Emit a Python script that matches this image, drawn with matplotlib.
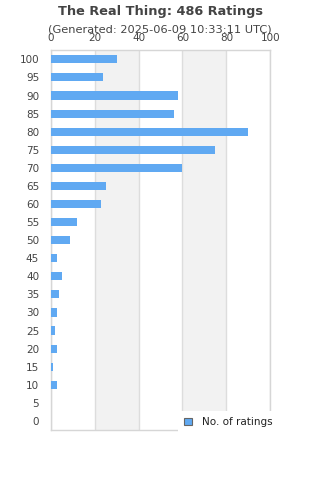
import matplotlib
matplotlib.use("Agg")
import matplotlib.pyplot as plt
from matplotlib.patches import Patch

categories = [100, 95, 90, 85, 80, 75, 70, 65, 60, 55, 50, 45, 40, 35, 30, 25, 20, 15, 10, 5, 0]
counts = [30, 24, 58, 56, 90, 75, 60, 25, 23, 12, 9, 3, 5, 4, 3, 2, 3, 1, 3, 0, 0]
xticks = [0, 20, 40, 60, 80, 100]
title = "The Real Thing: 486 Ratings"
subtitle = "(Generated: 2025-06-09 10:33:11 UTC)"
legend_label = "No. of ratings"

W, H = 320, 480
fig = plt.figure(figsize=(W / 100, H / 100), dpi=100)
left, right, top, bottom = 50.7, 270.3, 50.3, 430.0
ax = fig.add_axes([left / W, 1 - bottom / H, (right - left) / W, (bottom - top) / H])

bar_color = "#60a9f2"
text_color = "#444444"
grid_color = "#dddddd"
fs = 7.5

ypos = list(range(len(categories)))
ax.barh(ypos, counts, height=0.45, color=bar_color, zorder=3)
ax.set_ylim(len(categories) - 0.5, -0.5)
ax.set_xlim(0, 100)

for i in range(len(xticks) - 1):
    if i % 2 == 1:
        ax.axvspan(xticks[i], xticks[i + 1], color="#f2f2f2", zorder=0, lw=0)

ax.set_xticks(xticks)
ax.xaxis.tick_top()
ax.set_xticklabels([str(t) for t in xticks], fontsize=fs, color=text_color)
ax.set_yticks(ypos)
ax.set_yticklabels([str(c) for c in categories], fontsize=fs, color=text_color)
ax.tick_params(axis="both", length=0)
ax.tick_params(axis="x", pad=5)
ax.tick_params(axis="y", pad=8.3)
ax.grid(axis="x", color=grid_color, lw=1, zorder=1)
for s in ax.spines.values():
    s.set_color("#d6d6d6")
    s.set_linewidth(1)

fig.text(0.5, 1 - 11 / H, title, ha="center", va="center", fontsize=9.3,
         fontweight="bold", color=text_color)
fig.text(0.5, 1 - 30 / H, subtitle, ha="center", va="center", fontsize=8.2,
         color=text_color)

handle = Patch(facecolor=bar_color, edgecolor="#666666", linewidth=0.8)
leg = fig.legend([handle], [legend_label], loc="upper left",
                 bbox_to_anchor=(178 / W, 1 - 411 / H), fontsize=fs,
                 frameon=True, fancybox=False, framealpha=1, edgecolor="white",
                 facecolor="white", handlelength=0.75, handleheight=0.75,
                 handletextpad=1.0, borderpad=0.6, borderaxespad=0)
leg.get_frame().set_linewidth(0)
for t in leg.get_texts():
    t.set_color("#222222")

fig.savefig("out.png", dpi=100)
